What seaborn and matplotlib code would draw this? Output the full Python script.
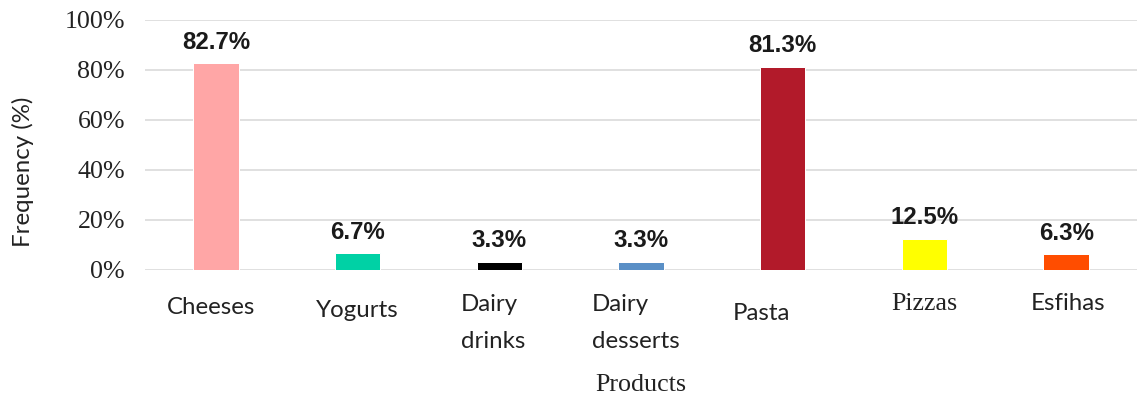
import numpy as np
import pandas as pd
import seaborn as sns
import matplotlib.pyplot as plt
from matplotlib.transforms import ScaledTranslation
from matplotlib.ticker import PercentFormatter

# data
products = ['Cheeses', 'Yogurts', 'Dairy drinks', 'Dairy desserts', 'Pasta', 'Pizzas', 'Esfihas']
tick_labels = ['Cheeses', 'Yogurts', 'Dairy\ndrinks', 'Dairy\ndesserts', 'Pasta', 'Pizzas', 'Esfihas']
frequency = [82.7, 6.7, 3.3, 3.3, 81.3, 12.5, 6.3]
bar_colors = ['#FFA6A6', '#00D1A5', '#000000', '#5A8FC6', '#B21A2A', '#FFFF00', '#FF4D00']

df = pd.DataFrame({'product': products, 'freq': frequency})

sns.set_style('white')

# dpi 72 so that points == pixels
fig = plt.figure(figsize=(1141 / 72, 404 / 72), dpi=72)
ax = fig.add_axes([145 / 1141, 134 / 404, 992 / 1141, 250 / 404])

sns.barplot(data=df, x='product', y='freq', hue='product',
            palette=dict(zip(products, bar_colors)), legend=False,
            width=0.32, saturation=1, ax=ax)

ax.set_ylim(0, 100)
ax.set_xlim(-0.5, len(products) - 0.5)
ax.set_yticks(np.arange(0, 101, 20))
ax.yaxis.set_major_formatter(PercentFormatter(decimals=0))
ax.yaxis.grid(True, color='#D9D9D9', linewidth=1.6)
ax.set_axisbelow(True)
sns.despine(ax=ax, left=True, bottom=True)
ax.tick_params(axis='both', length=0)
ax.tick_params(axis='y', pad=20)
ax.tick_params(axis='x', pad=27)

for lab in ax.get_yticklabels():
    lab.set_fontfamily('Liberation Serif')
    lab.set_fontsize(26)
    lab.set_color('#222222')

# value labels
for i, v in enumerate(frequency):
    ax.annotate(f'{v:.1f}%', xy=(i, v), xytext=(0, 21), textcoords='offset points',
                ha='center', va='center', fontsize=24, fontweight='bold',
                fontfamily='Liberation Sans', color='#1a1a1a')

# x tick labels, each nudged like in the reference (dx, dy in px)
ax.set_xticks(range(len(products)))
ax.set_xticklabels(tick_labels)
nudges = [(-5, 0), (0, -3), (-6, 3), (-5, 3), (-21, -6), (0, 4), (2, 4)]
for lab, (dx, dy) in zip(ax.get_xticklabels(), nudges):
    lab.set_fontsize(24)
    lab.set_color('#222222')
    if lab.get_text() == 'Pizzas':
        lab.set_fontfamily('Liberation Serif')
        lab.set_fontsize(26)
    else:
        lab.set_fontfamily('Lato')
    if '\n' in lab.get_text():
        lab.set_multialignment('left')
        lab.set_linespacing(1.95)
    lab.set_transform(lab.get_transform() + ScaledTranslation(dx / 72, dy / 72, fig.dpi_scale_trans))

ax.set_xlabel('Products', fontfamily='Liberation Serif', fontsize=26, color='#222222', labelpad=22)
ax.set_ylabel('Frequency (%)', fontfamily='Lato', fontsize=24, color='#222222')
ax.yaxis.set_label_coords(-0.112, 0.392)

fig.savefig('out.png', dpi=72, facecolor='white')
